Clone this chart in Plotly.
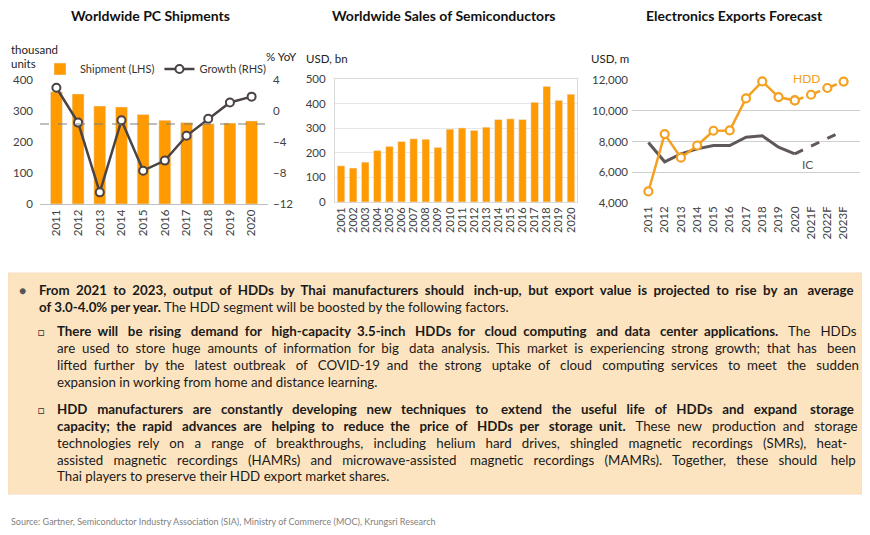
import plotly.graph_objects as go

W, H = 870, 535

# ---------------- data ----------------
pc_years = ["2011", "2012", "2013", "2014", "2015", "2016", "2017", "2018", "2019", "2020"]
pc_shipments = [362, 355, 316, 313, 289, 270, 263, 259, 261, 268]
pc_growth = [3.0, -1.5, -10.5, -1.2, -7.7, -6.4, -3.2, -1.0, 1.1, 1.85]
pc_ref_level = 258

semi_years = [str(y) for y in range(2001, 2021)]
semi_sales = [147, 138, 162, 209, 226, 246, 257, 255, 222, 296,
              301, 291, 304, 335, 338, 335, 405, 470, 413, 438]

exp_years = ["2011", "2012", "2013", "2014", "2015", "2016", "2017", "2018",
             "2019", "2020", "2021F", "2022F", "2023F"]
hdd_exports = [4750, 8480, 6950, 7740, 8700, 8720, 10800, 11910,
               10890, 10670, 11040, 11480, 11900]
ic_exports = [7930, 6680, 7200, 7520, 7740, 7740, 8280, 8370,
              7630, 7200, 7700, 8200, 8700]
actual_count = 10  # 2011-2020 actual, rest forecast

text_lines = [
    "<b>From 2021 to 2023, output of HDDs by Thai manufacturers should inch-up, but export value is projected to rise by an average</b>",
    "<b>of 3.0-4.0% per year.</b> The HDD segment will be boosted by the following factors.",
    "<b>There will be rising demand for high-capacity 3.5-inch HDDs for cloud computing and data center applications.</b> The HDDs",
    "are used to store huge amounts of information for big data analysis. This market is experiencing strong growth; that has been",
    "lifted further by the latest outbreak of COVID-19 and the strong uptake of cloud computing services to meet the sudden",
    "expansion in working from home and distance learning.",
    "<b>HDD manufacturers are constantly developing new techniques to extend the useful life of HDDs and expand storage</b>",
    "<b>capacity; the rapid advances are helping to reduce the price of HDDs per storage unit.</b> These new production and storage",
    "technologies rely on a range of breakthroughs, including helium hard drives, shingled magnetic recordings (SMRs), heat-",
    "assisted magnetic recordings (HAMRs) and microwave-assisted magnetic recordings (MAMRs). Together, these should help",
    "Thai players to preserve their HDD export market shares.",
]
source_text = "Source: Gartner, Semiconductor Industry Association (SIA), Ministry of Commerce (MOC), Krungsri Research"

# ---------------- layout helpers (positions / measured widths) ----------------
PAGE_OFFSET = 8  # page body margin in the browser
line_y = [290, 307, 331, 348, 365, 382, 409, 426, 443, 460, 476]
line_x = [37, 37, 55, 55, 55, 55, 55, 55, 55, 55, 55]
# approximate rendered widths of each line at the chosen font size (None = not justified)
line_natural_w = [741, None, 713, 725, 700, None, 685, 706, 701, 713, None]
JUSTIFY_RIGHT = 856
SPACE_PX = 3.4

FONT = "Lato"
ORANGE_BAR = "#FF9A00"
ORANGE_LINE = "#F5A020"
DARK = "#4B4343"
IC_GRAY = "#605858"
TICK = "#404040"


def px(x):
    return (x - PAGE_OFFSET) / W


def py(y):
    return 1 - (y - PAGE_OFFSET) / H


def justify(line, natural, target):
    if natural is None:
        return line
    n = max(0, round((target - natural) / SPACE_PX))
    words = line.split(" ")
    gaps = len(words) - 1
    out = words[0]
    for i, w in enumerate(words[1:]):
        k = (n * (i + 1)) // gaps - (n * i) // gaps
        out += " " + "\u00a0" * k + w
    return out


fig = go.Figure()

# Chart 1
fig.add_trace(go.Bar(x=pc_years, y=pc_shipments, name="Shipment (LHS)",
                     marker_color=ORANGE_BAR, width=0.55, xaxis="x", yaxis="y"))
fig.add_trace(go.Scatter(x=pc_years, y=pc_growth, name="Growth (RHS)", mode="lines+markers",
                         line=dict(color=DARK, width=2.5), cliponaxis=False,
                         marker=dict(size=8, color="white", line=dict(color=DARK, width=2)),
                         xaxis="x", yaxis="y2"))

# Chart 2
fig.add_trace(go.Bar(x=semi_years, y=semi_sales, marker_color=ORANGE_BAR, width=0.62,
                     showlegend=False, xaxis="x3", yaxis="y3"))

# Chart 3
fig.add_trace(go.Scatter(x=exp_years[actual_count - 1:], y=ic_exports[actual_count - 1:], mode="lines",
                         line=dict(color=IC_GRAY, width=3, dash="dash"), showlegend=False,
                         xaxis="x4", yaxis="y4"))
fig.add_trace(go.Scatter(x=exp_years[:actual_count], y=ic_exports[:actual_count], mode="lines",
                         line=dict(color=IC_GRAY, width=3), showlegend=False,
                         xaxis="x4", yaxis="y4"))
fig.add_trace(go.Scatter(x=exp_years[actual_count - 1:], y=hdd_exports[actual_count - 1:], mode="lines+markers",
                         line=dict(color=ORANGE_LINE, width=2.5, dash="dash"), cliponaxis=False,
                         marker=dict(size=8, color="white", line=dict(color=ORANGE_LINE, width=2.2)),
                         showlegend=False, xaxis="x4", yaxis="y4"))
fig.add_trace(go.Scatter(x=exp_years[:actual_count], y=hdd_exports[:actual_count], mode="lines+markers",
                         line=dict(color=ORANGE_LINE, width=2.5), cliponaxis=False,
                         marker=dict(size=8, color="white", line=dict(color=ORANGE_LINE, width=2.2)),
                         showlegend=False, xaxis="x4", yaxis="y4"))

tickfont = dict(family=FONT, size=11.5, color=TICK)
tickfont_small = dict(family=FONT, size=11, color=TICK)

fig.update_layout(
    width=W, height=H,
    margin=dict(l=0, r=0, t=0, b=0, pad=0, autoexpand=False),
    paper_bgcolor="white", plot_bgcolor="white",
    font=dict(family=FONT, color="#222"),
    legend=dict(orientation="h", x=px(40), y=py(69), xanchor="left", yanchor="middle",
                font=dict(family=FONT, size=11, color="#333"), bgcolor="rgba(0,0,0,0)",
                itemwidth=30, tracegroupgap=0),
    xaxis=dict(domain=[px(40), px(268)], anchor="y", type="category", tickangle=-90,
               categoryorder="array", categoryarray=pc_years, automargin=False,
               tickfont=tickfont, showline=True, linecolor="#bfbfbf", ticks="", showgrid=False),
    yaxis=dict(domain=[py(204), py(80)], anchor="x", range=[0, 400], dtick=100, automargin=False,
               tickfont=tickfont, showgrid=False, zeroline=False, ticks="", ticklabelstandoff=6),
    yaxis2=dict(overlaying="y", side="right", anchor="x", range=[-12, 4], dtick=4, automargin=False,
                tickfont=tickfont, showgrid=False, zeroline=False, ticks="", ticklabelstandoff=4),
    xaxis3=dict(domain=[px(335), px(577)], anchor="y3", type="category", tickangle=-90,
                categoryorder="array", categoryarray=semi_years, automargin=False,
                tickmode="array", tickvals=semi_years, ticktext=semi_years,
                tickfont=tickfont_small, showline=True, mirror=True, linecolor="#d9d9d9",
                ticks="", showgrid=False),
    yaxis3=dict(domain=[py(202), py(79)], anchor="x3", range=[0, 500], dtick=100, automargin=False,
                tickfont=tickfont, showgrid=True, gridcolor="#e6e6e6", showline=True, mirror=True,
                linecolor="#d9d9d9", zeroline=False, ticks="", ticklabelstandoff=6),
    xaxis4=dict(domain=[px(632), px(860)], anchor="y4", type="category", tickangle=-90,
                categoryorder="array", categoryarray=exp_years, automargin=False,
                tickmode="array", tickvals=exp_years, ticktext=exp_years,
                tickfont=tickfont, showline=False, ticks="", showgrid=False),
    yaxis4=dict(domain=[py(203), py(80)], anchor="x4", range=[4000, 12000], dtick=2000, automargin=False,
                tickformat=",d", tickfont=tickfont, showgrid=True, gridcolor="#cfcfcf",
                gridwidth=1.3, zeroline=False, ticks="", ticklabelstandoff=3),
)

# dashed reference line in chart 1
fig.add_shape(type="line", xref="x domain", yref="y", x0=0, x1=1, y0=pc_ref_level, y1=pc_ref_level,
              line=dict(color="#7f7f7f", width=1.2, dash="dash"))

# Text box background
fig.add_shape(type="rect", xref="paper", yref="paper", x0=px(8), x1=px(862), y0=py(494), y1=py(273),
              fillcolor="#FDE4C0", line=dict(color="#F5DCC0", width=1), layer="below")

ann = []


def add_text(x, y, text, size=13, color="#1a1a1a", xanchor="left"):
    ann.append(dict(xref="paper", yref="paper", x=px(x), y=py(y), text=text, showarrow=False,
                    xanchor=xanchor, yanchor="middle",
                    font=dict(family=FONT, size=size, color=color)))


# Titles
add_text(150, 15, "<b>Worldwide PC Shipments</b>", size=14, color="#111", xanchor="center")
add_text(444, 15, "<b>Worldwide Sales of Semiconductors</b>", size=14, color="#111", xanchor="center")
add_text(734, 15, "<b>Electronics Exports Forecast</b>", size=14, color="#111", xanchor="center")

# Axis unit labels
add_text(9, 49, "thousand", size=11.5, color="#222")
add_text(9, 63, "units", size=11.5, color="#222")
add_text(264, 57, "% YoY", size=11.5, color="#222")
add_text(304, 58, "USD, bn", size=11.5, color="#222")
add_text(589, 58, "USD, m", size=11.5, color="#222")

# Series labels chart 3
add_text(806, 78, "HDD", size=12, color=ORANGE_LINE, xanchor="center")
add_text(807, 165, "IC", size=12, color="#555", xanchor="center")

# Text box bullets and lines
for t, x, y, nw in zip(text_lines, line_x, line_y, line_natural_w):
    add_text(x, y, justify(t, nw, JUSTIFY_RIGHT - x), size=13.3)
add_text(22, 290, "●", size=12, color="#555", xanchor="center")
add_text(41, 331, "□", size=11, color="#333", xanchor="center")
add_text(41, 409, "□", size=11, color="#333", xanchor="center")

# Source
add_text(9, 521, source_text, size=9, color="#808080")

fig.update_layout(annotations=ann)

fig.write_html("out.html")
